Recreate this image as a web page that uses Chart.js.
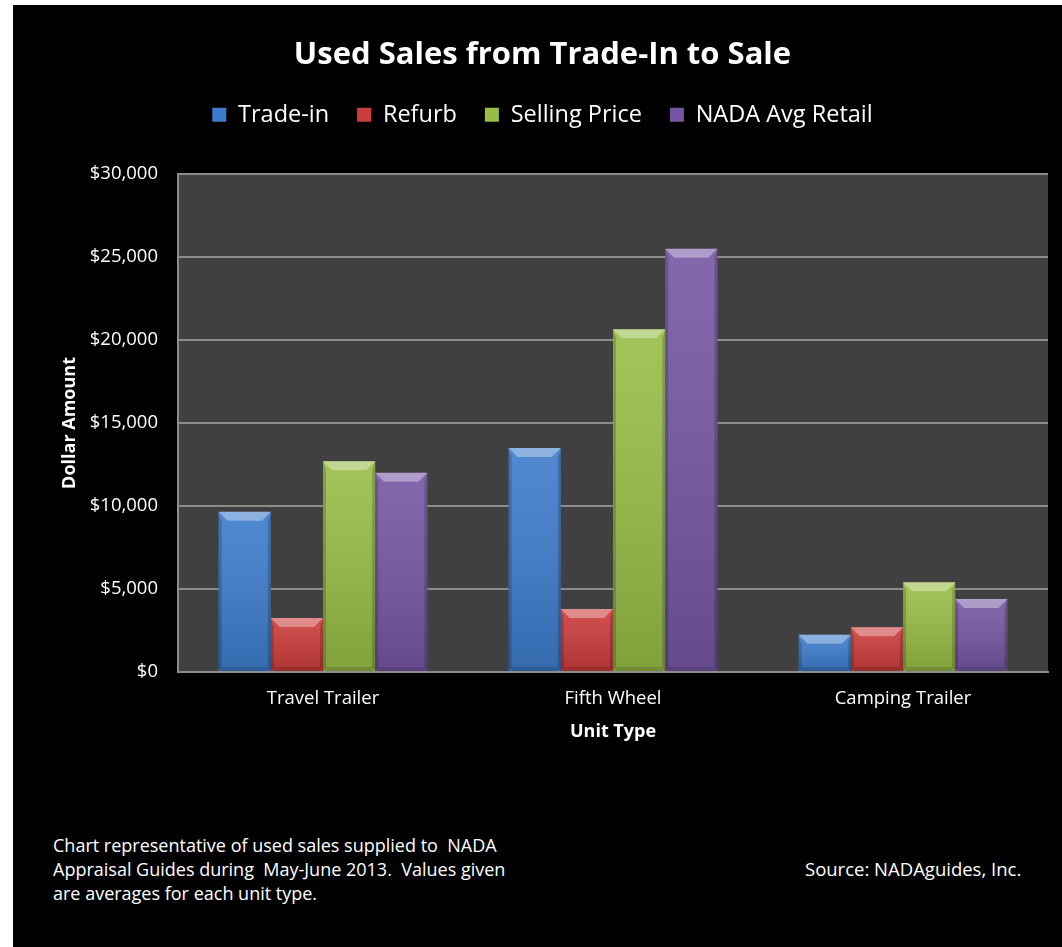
<!DOCTYPE html>
<html>
<head>
<meta charset="utf-8">
<script src="https://cdn.jsdelivr.net/npm/chart.js@4/dist/chart.umd.min.js"></script>
<style>
  body { margin: 0; background: #fff; font-family: "Open Sans", sans-serif; }
  #wrap { position: absolute; left: 13px; top: 5px; width: 1049px; height: 942px; background: #000; }
  #chart { position: absolute; left: 0; top: 0; }
  .note { position: absolute; color: #fff; font-size: 18px; line-height: 24px; white-space: nowrap; }
</style>
</head>
<body>
<div id="wrap">
  <canvas id="chart" width="1049" height="760"></canvas>
  <div class="note" style="left:40px; top:828px;">Chart representative of used sales supplied to&nbsp; NADA<br>Appraisal Guides during&nbsp; May-June 2013.&nbsp; Values given<br>are averages for each unit type.</div>
  <div class="note" style="left:792px; top:852px; font-size:18.5px;">Source: NADAguides, Inc.</div>
</div>
<script>
// average dollar amounts per unit type
const unitTypes = ['Travel Trailer', 'Fifth Wheel', 'Camping Trailer'];
const tradeIn = [9650, 13500, 2250];
const refurb = [3250, 3800, 2700];
const sellingPrice = [12700, 20650, 5400];
const nadaRetail = [12000, 25500, 4400];
const yTicks = [0, 5000, 10000, 15000, 20000, 25000, 30000];

const colors = ['#3d7ccc', '#cc3c3a', '#97bd45', '#7656a3'];
const FONT = 'Open Sans';

// dark plot area with a grey frame on the top and left
const plotBg = {
  id: 'plotBg',
  beforeDraw(chart) {
    const { ctx, chartArea: a } = chart;
    ctx.save();
    ctx.fillStyle = '#404040';
    ctx.fillRect(a.left, a.top, a.right - a.left, a.bottom - a.top);
    ctx.strokeStyle = '#8c8c8c';
    ctx.lineWidth = 2;
    ctx.beginPath();
    ctx.moveTo(a.left, a.bottom);
    ctx.lineTo(a.left, a.top);
    ctx.lineTo(a.right, a.top);
    ctx.stroke();
    ctx.restore();
  }
};

// bevelled look on each bar
const bevel = {
  id: 'bevel',
  afterDatasetsDraw(chart) {
    const ctx = chart.ctx;
    ctx.save();
    chart.data.datasets.forEach((ds, i) => {
      const meta = chart.getDatasetMeta(i);
      if (meta.hidden) return;
      meta.data.forEach(bar => {
        const { x, y, base, width } = bar.getProps(['x', 'y', 'base', 'width'], true);
        const l = x - width / 2, r = x + width / 2, h = base - y;
        const b = Math.min(9, h / 3);
        let g = ctx.createLinearGradient(0, y, 0, base);
        g.addColorStop(0, 'rgba(255,255,255,0.10)');
        g.addColorStop(1, 'rgba(0,0,0,0.15)');
        ctx.fillStyle = g;
        ctx.fillRect(l, y, width, h);
        // top face
        ctx.fillStyle = 'rgba(255,255,255,0.35)';
        ctx.beginPath();
        ctx.moveTo(l, y); ctx.lineTo(r, y); ctx.lineTo(r - b, y + b); ctx.lineTo(l + b, y + b);
        ctx.closePath(); ctx.fill();
        // sides
        ctx.fillStyle = 'rgba(0,0,0,0.18)';
        ctx.beginPath();
        ctx.moveTo(l, y); ctx.lineTo(l + 3, y + b); ctx.lineTo(l + 3, base - 3); ctx.lineTo(l, base);
        ctx.closePath(); ctx.fill();
        ctx.beginPath();
        ctx.moveTo(r, y); ctx.lineTo(r - 3, y + b); ctx.lineTo(r - 3, base - 3); ctx.lineTo(r, base);
        ctx.closePath(); ctx.fill();
        // bottom face
        ctx.fillStyle = 'rgba(0,0,0,0.12)';
        ctx.fillRect(l + 3, base - 4, width - 6, 4);
      });
    });
    ctx.restore();
  }
};

new Chart(document.getElementById('chart'), {
  type: 'bar',
  data: {
    labels: unitTypes,
    datasets: [
      { label: 'Trade-in', data: tradeIn, backgroundColor: colors[0] },
      { label: 'Refurb', data: refurb, backgroundColor: colors[1] },
      { label: 'Selling Price', data: sellingPrice, backgroundColor: colors[2] },
      { label: 'NADA Avg Retail', data: nadaRetail, backgroundColor: colors[3] }
    ]
  },
  options: {
    responsive: false,
    animation: false,
    layout: { padding: { left: 12, right: 2, top: 0, bottom: 0 } },
    categoryPercentage: 0.72,
    barPercentage: 1,
    plugins: {
      title: {
        display: true,
        text: 'Used Sales from Trade-In to Sale',
        color: '#fff',
        font: { family: FONT, size: 31, weight: 'bold' },
        padding: { top: 31.4, bottom: 1.5 }
      },
      // empty spacer between the legend and the plot
      subtitle: {
        display: true,
        text: '',
        weight: 500,
        font: { size: 10 },
        padding: { top: 25.4, bottom: 0 }
      },
      legend: {
        labels: {
          color: '#fff',
          font: { family: FONT, size: 23.5 },
          boxWidth: 14,
          boxHeight: 14,
          padding: 28
        }
      },
      tooltip: { enabled: false }
    },
    scales: {
      x: {
        grid: { display: false, drawTicks: false },
        border: { color: '#8c8c8c', width: 2 },
        ticks: { color: '#fff', font: { family: FONT, size: 18.5 }, padding: 16 },
        title: {
          display: true, text: 'Unit Type', color: '#fff',
          font: { family: FONT, size: 18, weight: 'bold' },
          padding: { top: 22, bottom: 22 }
        },
        afterFit(s) { s.height = 760 - 667; }
      },
      y: {
        min: 0,
        max: 30000,
        afterBuildTicks(s) { s.ticks = yTicks.map(v => ({ value: v })); },
        grid: { color: '#8c8c8c', lineWidth: 2, drawTicks: false },
        border: { color: '#8c8c8c', width: 2 },
        ticks: {
          color: '#fff',
          font: { family: FONT, size: 18.5 },
          padding: 20,
          callback: v => '$' + v.toLocaleString('en-US')
        },
        title: {
          display: true, text: 'Dollar Amount', color: '#fff',
          font: { family: FONT, size: 18, weight: 'bold' },
          padding: { top: 34, bottom: 34 }
        },
        afterFit(s) { s.width = 153; }
      },
      // empty strip on the right so the plot stops short of the edge
      yRight: {
        position: 'right',
        display: true,
        grid: { display: false, drawTicks: false },
        border: { display: false },
        ticks: { display: false },
        afterFit(s) { s.width = 12; }
      }
    }
  },
  plugins: [plotBg, bevel]
});
</script>
</body>
</html>
